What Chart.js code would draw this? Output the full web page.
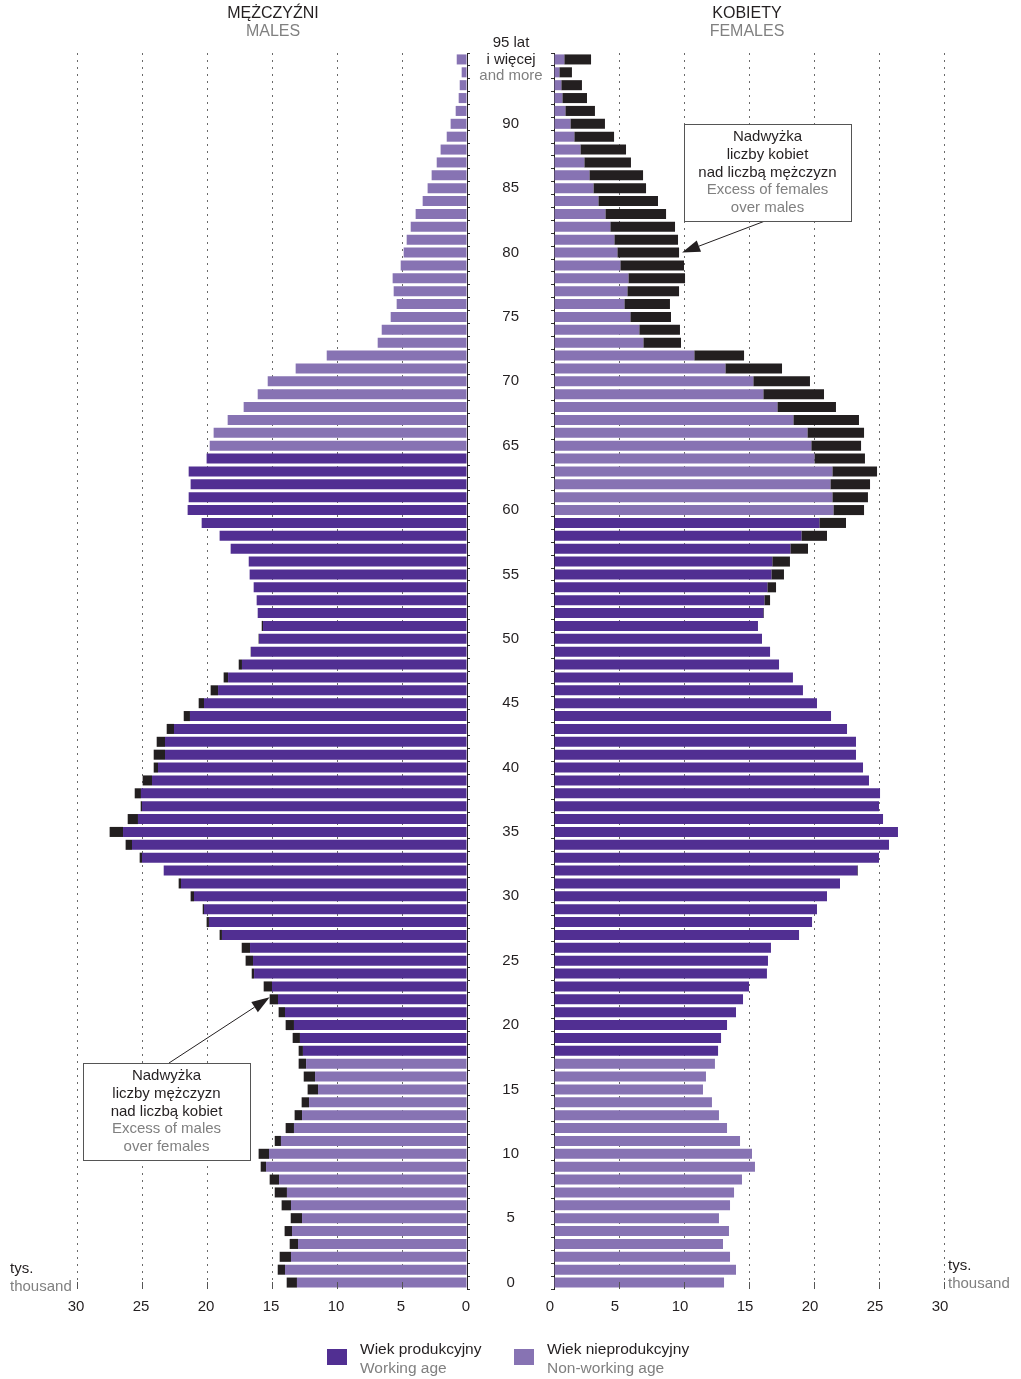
<!DOCTYPE html>
<html>
<head>
<meta charset="utf-8">
<script src="https://cdn.jsdelivr.net/npm/chart.js@4.4.1/dist/chart.umd.min.js"></script>
<style>
  body { margin: 0; background: #fff; font-family: 'Liberation Sans', Arial, sans-serif; }
  #page { position: relative; width: 1021px; height: 1379px; overflow: hidden; }
  canvas { position: absolute; top: 0; }
  .t { position: absolute; font-size: 15px; line-height: 18px; color: #231f20; white-space: nowrap; }
  .c { transform: translateX(-50%); }
  .g { color: #808080; }
  .sw { position: absolute; width: 20px; height: 16px; }
</style>
</head>
<body>
<div id="page">
  <canvas id="maleChart" width="490" height="1379" style="left:0"></canvas>
  <canvas id="femaleChart" width="551" height="1379" style="left:470px"></canvas>

  <div class="t c" style="left:273px;top:4px;font-size:16px">MĘŻCZYŹNI</div>
  <div class="t c g" style="left:273px;top:22px;font-size:16px">MALES</div>
  <div class="t c" style="left:747px;top:4px;font-size:16px">KOBIETY</div>
  <div class="t c g" style="left:747px;top:22px;font-size:16px">FEMALES</div>

  <div class="t" style="left:10px;top:1259px">tys.</div>
  <div class="t g" style="left:10px;top:1277px">thousand</div>
  <div class="t" style="left:948px;top:1256px">tys.</div>
  <div class="t g" style="left:948px;top:1274px">thousand</div>

  <div class="sw" style="left:327px;top:1349px;background:#512f92"></div>
  <div class="t" style="left:360px;top:1340px;font-size:15.5px">Wiek produkcyjny</div>
  <div class="t g" style="left:360px;top:1359px;font-size:15.5px">Working age</div>
  <div class="sw" style="left:514px;top:1349px;background:#8773b3"></div>
  <div class="t" style="left:547px;top:1340px;font-size:15.5px">Wiek nieprodukcyjny</div>
  <div class="t g" style="left:547px;top:1359px;font-size:15.5px">Non-working age</div>
</div>

<script>
// ages 0 .. 95 (95 = 95 and more), values in thousands
const ages = Array.from({ length: 96 }, (_, i) => i);

const males = [
  13.87, 14.56, 14.41, 13.64, 14.03, 13.56, 14.26, 14.79, 15.18, 15.87,
  16.03, 14.79, 13.95, 13.26, 12.72, 12.26, 12.56, 12.95, 12.95, 13.41,
  13.95, 14.49, 15.18, 15.64, 16.56, 17.03, 17.33, 19.03, 20.03, 20.33,
  21.26, 22.18, 23.33, 25.18, 26.26, 27.49, 26.10, 25.10, 25.56, 24.95,
  24.10, 24.10, 23.87, 23.10, 21.79, 20.64, 19.72, 18.72, 17.56, 16.64,
  16.03, 15.79, 16.10, 16.18, 16.41, 16.72, 16.79, 18.18, 19.03, 20.41,
  21.49, 21.41, 21.26, 21.41, 20.03, 19.79, 19.49, 18.41, 17.18, 16.10,
  15.33, 13.18, 10.79, 6.87, 6.56, 5.87, 5.41, 5.64, 5.72, 5.10,
  4.87, 4.64, 4.33, 3.95, 3.41, 3.03, 2.72, 2.33, 2.03, 1.56,
  1.26, 0.87, 0.64, 0.56, 0.41, 0.79
];

const females = [
  13.08, 14.00, 13.54, 13.00, 13.46, 12.69, 13.54, 13.85, 14.46, 15.46,
  15.23, 14.31, 13.31, 12.69, 12.15, 11.46, 11.69, 12.38, 12.62, 12.85,
  13.31, 14.00, 14.54, 15.00, 16.38, 16.46, 16.69, 18.85, 19.85, 20.23,
  21.00, 22.00, 23.38, 25.00, 25.77, 26.46, 25.31, 25.00, 25.08, 24.23,
  23.77, 23.23, 23.23, 22.54, 21.31, 20.23, 19.15, 18.38, 17.31, 16.62,
  16.00, 15.69, 16.15, 16.62, 17.08, 17.69, 18.15, 19.54, 21.00, 22.46,
  23.85, 24.15, 24.31, 24.85, 23.92, 23.62, 23.85, 23.46, 21.69, 20.77,
  19.69, 17.54, 14.62, 9.77, 9.69, 9.00, 8.92, 9.62, 10.08, 10.00,
  9.62, 9.54, 9.31, 8.62, 8.00, 7.08, 6.85, 5.92, 5.54, 4.62,
  3.92, 3.15, 2.54, 2.15, 1.38, 2.85
];

// working age ranges [from, to]
const maleWorking = [18, 64];
const femaleWorking = [18, 59];

const xTicks = [0, 5, 10, 15, 20, 25, 30];

const DARK = '#512f92';
const LIGHT = '#8773b3';
const BLACK = '#231f20';
const FONT = "'Liberation Sans', Arial, sans-serif";

Chart.defaults.font.family = FONT;
Chart.defaults.font.size = 15;
Chart.defaults.color = BLACK;

function buildSets(own, other, range) {
  const base = own.map((v, i) => Math.min(v, other[i]));
  const working = base.map((v, i) => (ages[i] >= range[0] && ages[i] <= range[1]) ? v : 0);
  const nonWorking = base.map((v, i) => (ages[i] >= range[0] && ages[i] <= range[1]) ? 0 : v);
  const excess = own.map((v, i) => Math.max(0, v - other[i]));
  const common = { barPercentage: 0.78, categoryPercentage: 1, borderWidth: 0 };
  return [
    { label: 'Wiek produkcyjny', data: working, backgroundColor: DARK, ...common },
    { label: 'Wiek nieprodukcyjny', data: nonWorking, backgroundColor: LIGHT, ...common },
    { label: 'Nadwyżka', data: excess, backgroundColor: BLACK, ...common }
  ];
}

function xScale(reverse, labelShift) {
  return {
    type: 'linear',
    stacked: true,
    reverse: reverse,
    min: 0,
    max: 30,
    afterBuildTicks: s => { s.ticks = xTicks.map(v => ({ value: v })); },
    ticks: { color: BLACK, padding: 9, labelOffset: labelShift, font: { size: 15 } },
    grid: {
      color: c => (c.tick && c.tick.value === 0) ? 'rgba(0,0,0,0)' : '#6a6a6a',
      lineWidth: 1,
      drawTicks: false
    },
    border: { display: false, dash: [2, 5] },
    afterFit: s => { s.height = 90; }
  };
}

// short solid tick marks at the foot of each dotted line
const footTicks = {
  id: 'footTicks',
  afterDraw(chart) {
    const ctx = chart.ctx, x = chart.scales.x, b = chart.chartArea.bottom;
    ctx.save();
    ctx.strokeStyle = '#555';
    ctx.lineWidth = 1;
    xTicks.forEach(v => {
      if (v === 0) return;
      const px = Math.round(x.getPixelForValue(v)) + 0.5;
      ctx.beginPath();
      ctx.moveTo(px, b - 7);
      ctx.lineTo(px, b);
      ctx.stroke();
    });
    ctx.restore();
  }
};

function drawNote(ctx, box, lines, from, tip) {
  ctx.save();
  const ang = Math.atan2(tip.y - from.y, tip.x - from.x);
  const headLen = 18, headW = 6;
  const bx = tip.x - headLen * Math.cos(ang);
  const by = tip.y - headLen * Math.sin(ang);
  ctx.strokeStyle = BLACK;
  ctx.lineWidth = 1;
  ctx.beginPath();
  ctx.moveTo(from.x, from.y);
  ctx.lineTo(bx, by);
  ctx.stroke();
  ctx.beginPath();
  ctx.moveTo(tip.x, tip.y);
  ctx.lineTo(bx + headW * Math.sin(ang), by - headW * Math.cos(ang));
  ctx.lineTo(bx - headW * Math.sin(ang), by + headW * Math.cos(ang));
  ctx.closePath();
  ctx.fillStyle = BLACK;
  ctx.fill();

  ctx.fillStyle = '#fff';
  ctx.fillRect(box.x, box.y, box.w, box.h);
  ctx.strokeStyle = '#555';
  ctx.strokeRect(box.x + 0.5, box.y + 0.5, box.w, box.h);

  ctx.font = '15px ' + FONT;
  ctx.textAlign = 'center';
  ctx.textBaseline = 'middle';
  lines.forEach((l, i) => {
    ctx.fillStyle = l[1] ? '#808080' : BLACK;
    ctx.fillText(l[0], box.x + box.w / 2, box.y + 13 + i * 17.75);
  });
  ctx.restore();
}

// male side
new Chart(document.getElementById('maleChart'), {
  type: 'bar',
  data: { labels: ages.map(String), datasets: buildSets(males, females, maleWorking) },
  options: {
    indexAxis: 'y',
    responsive: false,
    animation: false,
    layout: { padding: { left: 77, top: 53, right: 0, bottom: 0 } },
    plugins: { legend: { display: false }, tooltip: { enabled: false } },
    scales: {
      x: xScale(true, -1),
      y: {
        stacked: true,
        reverse: true,
        position: 'right',
        ticks: { display: false },
        grid: { offset: true, drawOnChartArea: false, tickLength: 3, color: '#333' },
        border: { display: true, color: BLACK, width: 1 },
        afterFit: s => { s.width = 23; }
      }
    }
  },
  plugins: [footTicks, {
    id: 'maleNote',
    afterDraw(chart) {
      const x = chart.scales.x, y = chart.scales.y;
      drawNote(chart.ctx, { x: 83, y: 1063, w: 167, h: 97 }, [
        ['Nadwyżka', 0], ['liczby mężczyzn', 0], ['nad liczbą kobiet', 0],
        ['Excess of males', 1], ['over females', 1]
      ], { x: 169, y: 1063 }, { x: x.getPixelForValue(males[22]), y: y.getPixelForValue(22) - 2 });
    }
  }]
});

// female side
new Chart(document.getElementById('femaleChart'), {
  type: 'bar',
  data: { labels: ages.map(String), datasets: buildSets(females, males, femaleWorking) },
  options: {
    indexAxis: 'y',
    responsive: false,
    animation: false,
    layout: { padding: { left: 0, top: 53, right: 77, bottom: 0 } },
    plugins: { legend: { display: false }, tooltip: { enabled: false } },
    scales: {
      x: xScale(false, -4),
      y: {
        stacked: true,
        reverse: true,
        position: 'left',
        ticks: {
          autoSkip: false,
          crossAlign: 'center',
          padding: 32,
          color: BLACK,
          font: { size: 15 },
          callback: (v, i) => (ages[i] % 5 === 0 && ages[i] < 95) ? String(ages[i]) : ''
        },
        grid: { offset: true, drawOnChartArea: false, tickLength: 3, color: '#333' },
        border: { display: true, color: BLACK, width: 1 },
        afterFit: s => { s.width = 84; }
      }
    }
  },
  plugins: [footTicks, {
    id: 'femaleNotes',
    afterDraw(chart) {
      const ctx = chart.ctx, x = chart.scales.x, y = chart.scales.y;
      // top age label
      const y95 = y.getPixelForValue(95);
      ctx.save();
      ctx.font = '15px ' + FONT;
      ctx.textAlign = 'center';
      ctx.textBaseline = 'middle';
      ctx.fillStyle = BLACK;
      ctx.fillText('95 lat', 41, y95 - 17);
      ctx.fillText('i więcej', 41, y95);
      ctx.fillStyle = '#808080';
      ctx.fillText('and more', 41, y95 + 16);
      ctx.restore();

      drawNote(ctx, { x: 214, y: 124, w: 167, h: 97 }, [
        ['Nadwyżka', 0], ['liczby kobiet', 0], ['nad liczbą mężczyzn', 0],
        ['Excess of females', 1], ['over males', 1]
      ], { x: 295, y: 221 }, { x: x.getPixelForValue(females[80]) + 3, y: y.getPixelForValue(80) });
    }
  }]
});
</script>
</body>
</html>
